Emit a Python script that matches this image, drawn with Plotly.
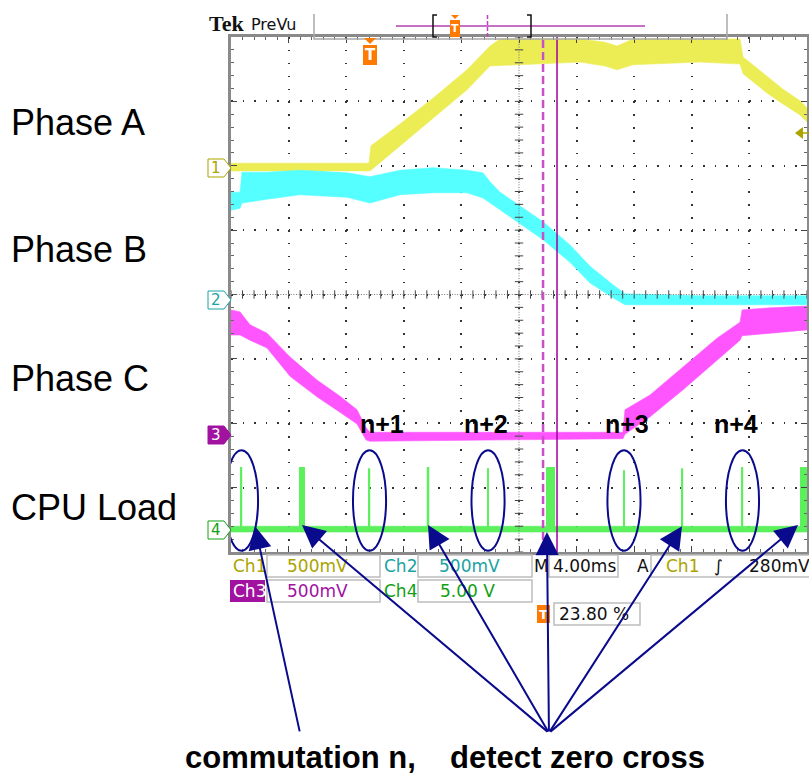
import plotly.graph_objects as go

W, H = 809, 776

# scope screen readings: time in ms (4 ms/div, 10 div), level in screen divisions (0..8)
phase_a_t = [0.0, 9.58, 9.72, 11.74, 14.03, 16.39, 17.99, 18.68, 20.97, 24.24, 25.97, 26.81, 27.92, 32.57, 35.35, 35.56, 37.22, 38.33, 39.51, 40.0]
phase_a_hi = [6.04, 6.04, 6.31, 6.65, 7.05, 7.49, 7.86, 7.97, 7.97, 7.97, 7.92, 7.86, 7.97, 7.97, 7.97, 7.69, 7.39, 7.19, 7.01, 6.90]
phase_a_lo = [5.92, 5.92, 5.93, 6.31, 6.74, 7.18, 7.55, 7.55, 7.58, 7.61, 7.55, 7.49, 7.57, 7.61, 7.58, 7.43, 7.13, 6.96, 6.79, 6.68]

phase_b_t = [0.0, 0.63, 0.76, 2.50, 4.79, 8.06, 9.65, 11.74, 14.03, 16.39, 17.50, 17.99, 18.68, 20.07, 21.67, 23.54, 24.93, 26.53, 27.36, 32.57, 40.0]
phase_b_hi = [5.59, 5.59, 5.90, 5.90, 5.93, 5.89, 5.83, 5.93, 5.97, 5.93, 5.89, 5.75, 5.59, 5.37, 5.13, 4.77, 4.44, 4.15, 4.01, 3.98, 3.98]
phase_b_lo = [5.31, 5.34, 5.42, 5.48, 5.55, 5.51, 5.42, 5.55, 5.58, 5.58, 5.50, 5.42, 5.31, 5.10, 4.85, 4.50, 4.18, 3.95, 3.84, 3.84, 3.84]

phase_c_t = [0.0, 0.63, 1.32, 2.50, 4.10, 5.97, 7.57, 8.75, 9.38, 9.65, 27.22, 27.36, 29.10, 31.39, 33.75, 35.35, 35.49, 37.22, 40.0]
phase_c_hi = [3.76, 3.73, 3.53, 3.40, 3.03, 2.67, 2.42, 2.21, 1.93, 1.86, 1.86, 2.21, 2.44, 2.87, 3.32, 3.57, 3.76, 3.79, 3.82]
phase_c_lo = [3.37, 3.37, 3.29, 3.17, 2.73, 2.41, 2.17, 1.99, 1.74, 1.72, 1.76, 1.83, 2.10, 2.52, 2.98, 3.29, 3.36, 3.40, 3.45]

cpu_base_hi = 0.40
cpu_base_lo = 0.31
cpu_spike_t = [0.73, 4.93, 9.62, 13.68, 17.85, 22.19, 27.29, 31.35, 35.52, 39.76]
cpu_spike_w = [0.10, 0.42, 0.10, 0.17, 0.10, 0.63, 0.10, 0.10, 0.10, 0.49]
cpu_spike_top = [1.32, 1.32, 1.30, 1.32, 1.30, 1.32, 1.27, 1.30, 1.32, 1.32]

circled_spikes = [0, 2, 4, 6, 8]          # commutation events
zero_cross_tips = [(4.93, 0.42), (13.68, 0.42), (21.94, 0.31), (31.32, 0.40), (39.38, 0.42)]
commutation_tip = (1.67, 0.40)

YELLOW = "#ECEC55"
CYAN = "#55FFFF"
MAGENTA = "#FF55FF"
GREEN = "#5CF05C"
NAVY = "#0A0A8C"
OLIVE = "#ABA300"
TEAL = "#1AA3A3"
PURPLE = "#A0129F"
DKGREEN = "#12A012"
ORANGE = "#FF7A00"


def px(x):
    return x / W


def py(y):
    return 1 - y / H


def ppath(points, close=True):
    s = "M " + " L ".join("{:.5f},{:.5f}".format(px(x), py(y)) for x, y in points)
    return s + (" Z" if close else "")


def band(t, hi, lo, color):
    return go.Scatter(
        x=t + t[::-1], y=hi + lo[::-1], mode="lines", fill="toself",
        fillcolor=color, line=dict(color=color, width=0.6), hoverinfo="skip",
    )


def label(text, x, y, size, color="black", family="Liberation Sans, Arial", xanchor="center", yanchor="middle"):
    return dict(x=px(x), y=py(y), xref="paper", yref="paper", text=text, showarrow=False,
                xanchor=xanchor, yanchor=yanchor, font=dict(family=family, size=size, color=color))


fig = go.Figure()
fig.add_trace(band(phase_a_t, phase_a_hi, phase_a_lo, YELLOW))
fig.add_trace(band(phase_b_t, phase_b_hi, phase_b_lo, CYAN))
fig.add_trace(band(phase_c_t, phase_c_hi, phase_c_lo, MAGENTA))
fig.add_trace(band([0.0, 40.0], [cpu_base_hi] * 2, [cpu_base_lo] * 2, GREEN))
fig.add_trace(go.Bar(
    x=cpu_spike_t, y=[v - cpu_base_lo for v in cpu_spike_top], base=cpu_base_lo,
    width=cpu_spike_w, marker=dict(color=GREEN, line=dict(width=0)), hoverinfo="skip",
))

# centre cross ruler ticks
fig.add_trace(go.Scatter(
    x=[i * 0.8 for i in range(51)], y=[4] * 51, mode="markers", hoverinfo="skip",
    marker=dict(symbol="line-ns", size=6, line=dict(width=1, color="#444")),
))
fig.add_trace(go.Scatter(
    x=[20] * 41, y=[i * 0.2 for i in range(41)], mode="markers", hoverinfo="skip",
    marker=dict(symbol="line-ew", size=6, line=dict(width=1, color="#444")),
))

shapes = []
# centre dotted lines
shapes.append(dict(type="line", xref="x", yref="y", x0=20, x1=20, y0=0, y1=8,
                   line=dict(color="#777", width=1, dash="1px,1.6px")))
shapes.append(dict(type="line", xref="x", yref="y", x0=0, x1=40, y0=4, y1=4,
                   line=dict(color="#777", width=1, dash="1px,1.6px")))
# cursors
shapes.append(dict(type="line", xref="x", yref="y", x0=21.67, x1=21.67, y0=0, y1=8,
                   line=dict(color="#C850C8", width=2.5, dash="8px,4px")))
shapes.append(dict(type="line", xref="x", yref="y", x0=22.64, x1=22.64, y0=0, y1=8,
                   line=dict(color="#A000A0", width=1.5)))
# ellipses around commutation spikes
for i in circled_spikes:
    t = cpu_spike_t[i]
    shapes.append(dict(type="circle", xref="x", yref="y", x0=t - 1.15, x1=t + 1.15, y0=0.02, y1=1.58,
                       line=dict(color=NAVY, width=2)))

# top bar
shapes.append(dict(type="path", xref="paper", yref="paper",
                   path=ppath([(314, 14), (314, 39), (727, 39), (727, 14)], close=False),
                   line=dict(color="#A8A8A8", width=1.5)))
shapes.append(dict(type="line", xref="paper", yref="paper", x0=px(396), x1=px(645), y0=py(26), y1=py(26),
                   line=dict(color="#B040B0", width=1.5)))
shapes.append(dict(type="path", xref="paper", yref="paper",
                   path=ppath([(437, 15), (433, 15), (433, 37), (437, 37)], close=False),
                   line=dict(color="#111", width=1.5)))
shapes.append(dict(type="path", xref="paper", yref="paper",
                   path=ppath([(527, 15), (531, 15), (531, 37), (527, 37)], close=False),
                   line=dict(color="#111", width=1.5)))
shapes.append(dict(type="line", xref="paper", yref="paper", x0=px(487.5), x1=px(487.5), y0=py(15), y1=py(38),
                   line=dict(color="#C040C0", width=1.5, dash="4px,2px")))
shapes.append(dict(type="path", xref="paper", yref="paper",
                   path=ppath([(451, 15), (459, 15), (455, 19)]), fillcolor=ORANGE, line=dict(width=0)))
shapes.append(dict(type="rect", xref="paper", yref="paper", x0=px(450), x1=px(460), y0=py(20), y1=py(37),
                   fillcolor=ORANGE, line=dict(width=0)))
# trigger position marker on screen
shapes.append(dict(type="path", xref="paper", yref="paper",
                   path=ppath([(364, 38), (376, 38), (370, 44)]), fillcolor=ORANGE, line=dict(width=0)))
shapes.append(dict(type="rect", xref="paper", yref="paper", x0=px(363), x1=px(377), y0=py(45), y1=py(65),
                   fillcolor=ORANGE, line=dict(width=0)))
# trigger level marker at right
shapes.append(dict(type="path", xref="paper", yref="paper",
                   path=ppath([(795, 133), (803, 127), (803, 139)]), fillcolor=OLIVE, line=dict(width=0)))
shapes.append(dict(type="line", xref="paper", yref="paper", x0=px(803), x1=px(809), y0=py(133), y1=py(133),
                   line=dict(color=OLIVE, width=1.5)))

annotations = []
# channel ground markers
markers = [("1", 168, OLIVE, "white", OLIVE), ("2", 300, TEAL, "white", TEAL),
           ("3", 435, PURPLE, PURPLE, "white"), ("4", 530, DKGREEN, "white", DKGREEN)]
for text, yc, edge, fill, txt in markers:
    shapes.append(dict(type="path", xref="paper", yref="paper",
                       path=ppath([(208, yc - 9), (224, yc - 9), (231, yc), (224, yc + 9), (208, yc + 9)]),
                       fillcolor=fill, line=dict(color=edge, width=1)))
    annotations.append(label(text, 216, yc, 15, txt, "DejaVu Sans"))

# status area boxes
for x0, y0, x1, y1 in [(267, 555, 380, 577), (418, 555, 532, 577), (549, 555, 618, 577), (651, 555, 815, 577),
                       (267, 580, 380, 602), (418, 580, 532, 602), (554, 603, 640, 625)]:
    shapes.append(dict(type="rect", xref="paper", yref="paper", x0=px(x0), x1=px(x1), y0=py(y0), y1=py(y1),
                       line=dict(color="#BDBDBD", width=1.5)))
shapes.append(dict(type="rect", xref="paper", yref="paper", x0=px(230), x1=px(265), y0=py(580), y1=py(602),
                   fillcolor=PURPLE, line=dict(width=0)))
shapes.append(dict(type="rect", xref="paper", yref="paper", x0=px(537), x1=px(550), y0=py(605), y1=py(623),
                   fillcolor=ORANGE, line=dict(width=0)))

status = [("Ch1", 231, 566, OLIVE), ("500mV", 285, 566, OLIVE), ("Ch2", 382, 566, TEAL), ("500mV", 437, 566, TEAL),
          ("M", 532, 566, "#111"), ("4.00ms", 551, 566, "#111"), ("A", 635, 566, "#111"),
          ("Ch1", 664, 566, OLIVE), ("\u222b", 712, 566, "#111"), ("280mV", 747, 566, "#111"),
          ("Ch3", 231, 591, "white"), ("500mV", 285, 591, PURPLE), ("Ch4", 382, 591, DKGREEN),
          ("5.00 V", 438, 591, DKGREEN), ("23.80 %", 557, 614, "#111")]
for text, x, y, color in status:
    annotations.append(label(text, x, y, 17, color, "DejaVu Sans", "left"))

annotations.append(label("<b>T</b>", 543.5, 614, 13, "white", "DejaVu Sans"))
annotations.append(label("<b>T</b>", 370, 55, 15, "white", "DejaVu Sans"))
annotations.append(label("<b>T</b>", 455, 29, 11, "white", "DejaVu Sans"))
annotations.append(label("<b>Tek</b>", 207, 23, 22, "#111", "Liberation Serif", "left"))
annotations.append(label("PreVu", 249, 24, 16, "#111", "DejaVu Sans", "left"))

# channel names
for text, y in [("Phase A", 122), ("Phase B", 250), ("Phase C", 378), ("CPU Load", 507)]:
    annotations.append(label(text, 9, y, 36, xanchor="left"))

# commutation labels n+1..n+4
for text, x in [("n+1", 382), ("n+2", 486), ("n+3", 627), ("n+4", 736)]:
    annotations.append(label("<b>" + text + "</b>", x, 424, 25))

# arrows
tail_y = -2.81
for tx, ty in zero_cross_tips:
    annotations.append(dict(x=tx, y=ty, xref="x", yref="y", ax=22.08, ay=tail_y, axref="x", ayref="y",
                            text="", showarrow=True, arrowhead=2, arrowsize=2.3, arrowwidth=2, arrowcolor=NAVY))
annotations.append(dict(x=commutation_tip[0], y=commutation_tip[1], xref="x", yref="y", ax=4.79, ay=tail_y,
                        axref="x", ayref="y", text="", showarrow=True, arrowhead=2, arrowsize=2.3,
                        arrowwidth=2, arrowcolor=NAVY))

for text, x in [("<b>commutation n,</b>", 300), ("<b>detect zero cross</b>", 577)]:
    bottom = label(text, x, 776, 31, yanchor="bottom")
    bottom["borderpad"] = 0
    annotations.append(bottom)

axis_common = dict(showticklabels=False, zeroline=False, showline=True, linecolor="#8A8A8A", linewidth=3,
                   mirror="allticks", ticks="inside", ticklen=6, tickwidth=1, tickcolor="#444",
                   showgrid=True, gridcolor="#333", gridwidth=1.5)

fig.update_layout(
    width=W, height=H, margin=dict(l=0, r=0, t=0, b=0),
    paper_bgcolor="white", plot_bgcolor="white", showlegend=False, barmode="overlay",
    xaxis=dict(domain=[px(231), px(807)], range=[0, 40], dtick=4, tick0=0, griddash="1.5px,11.375px",
               minor=dict(dtick=0.8, ticks="inside", ticklen=3, tickcolor="#666", showgrid=False), **axis_common),
    yaxis=dict(domain=[py(552), py(37)], range=[0, 8], dtick=1, tick0=0, griddash="1.5px,10.02px",
               minor=dict(dtick=0.2, ticks="inside", ticklen=3, tickcolor="#666", showgrid=False), **axis_common),
    shapes=shapes, annotations=annotations,
)

# drop the default page margin so the 809x776 figure fills the window exactly
fig.write_html("out.html", config={"displayModeBar": False},
               post_script="document.body.style.margin = '0';")
